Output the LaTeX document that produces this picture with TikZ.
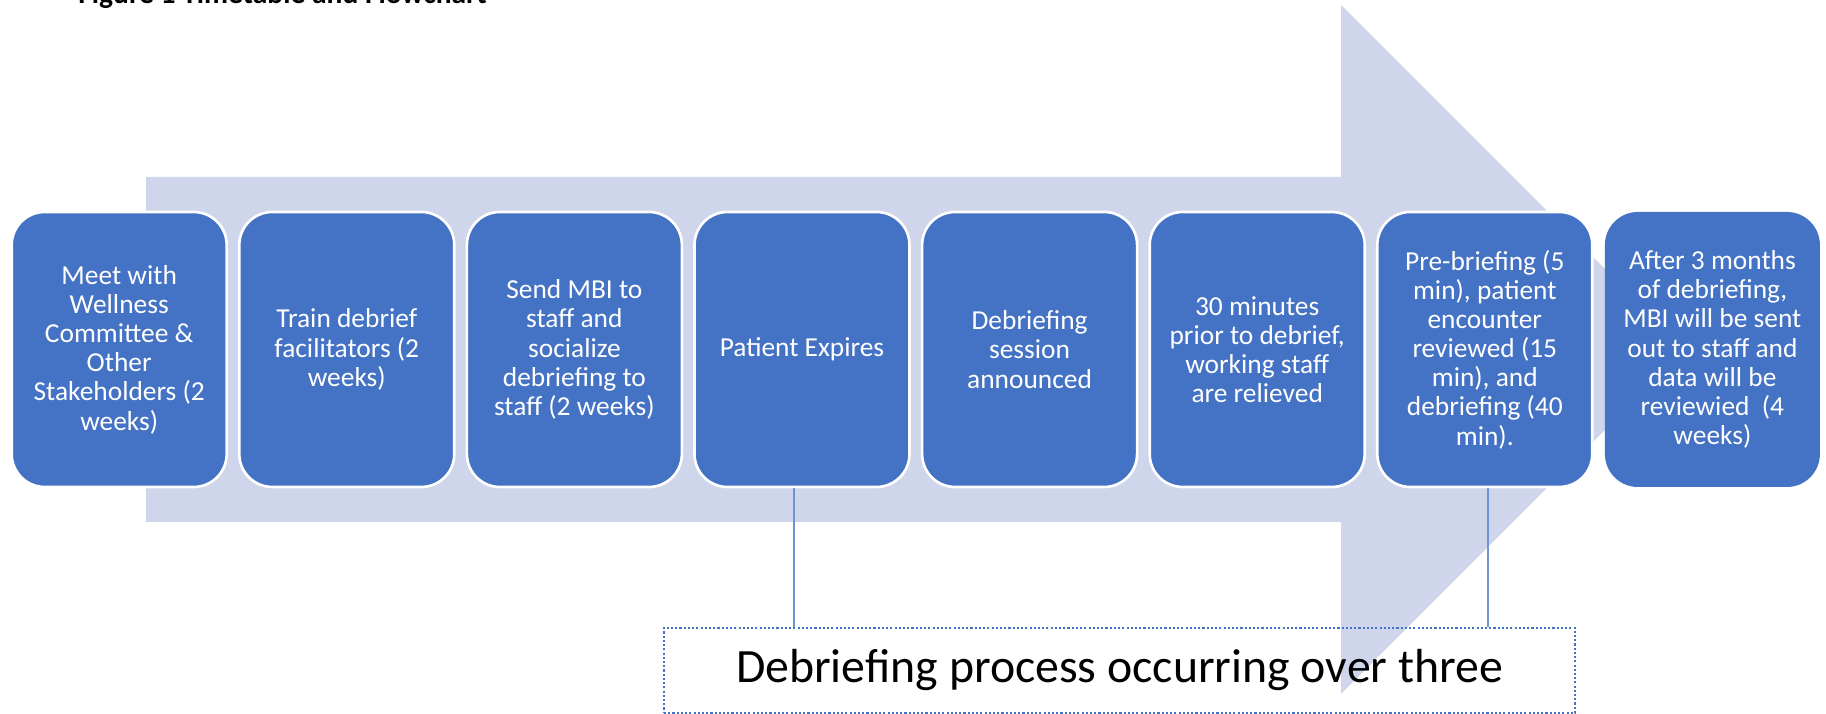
\documentclass[tikz,border=0pt]{standalone}
\usepackage{fontspec}
\setmainfont{Carlito}
\usetikzlibrary{arrows.meta}
\definecolor{bg}{HTML}{FFFFFF}
\definecolor{band}{HTML}{CFD5EA}
\definecolor{stagefill}{HTML}{4472C4}
\definecolor{linkcol}{HTML}{6F93D6}
\definecolor{notedge}{HTML}{4472C4}
\definecolor{ink}{HTML}{000000}

\begin{document}
\begin{tikzpicture}[x=1cm,y=1cm,
  stage/.style={fill=stagefill,draw=white,line width=0.75pt,rounded corners=0.33cm,align=center,inner sep=0pt,
    minimum width=2.15cm,minimum height=2.75cm,text=white,font=\fontsize{7.8}{8.3}\selectfont},
  link/.style={draw=linkcol,line width=0.5pt},
  note/.style={draw=notedge,line width=0.6pt,dash pattern=on 0.6pt off 0.6pt,inner sep=0pt,
    minimum width=9.11cm,minimum height=0.85cm,font=\fontsize{13.6}{15}\selectfont,text=ink}]
  \useasboundingbox (0,0) rectangle (18.26,7.14);
  \fill[bg] (0,0) rectangle (18.26,7.14);
  \node[font=\fontsize{8.4}{9}\selectfont\bfseries,text=ink,anchor=base west] (title) at (0.66,7.10) {Figure 1 Timetable and Flowchart};

  % ===== big background arrow =====
  \fill[band] (1.46,1.92) -- (13.41,1.92) -- (13.41,0.20) -- (16.855,3.645) -- (13.41,7.09) -- (13.41,5.37) -- (1.46,5.37) -- cycle;

  % ===== stages (left to right) =====
  \node[stage] (b1) at (1.192,3.645) {Meet with\\Wellness\\Committee \&\\Other\\Stakeholders (2\\weeks)};
  \node[stage] (b2) at (3.468,3.645) {Train debrief\\facilitators (2\\weeks)};
  \node[stage] (b3) at (5.744,3.645) {Send MBI to\\staff and\\socialize\\debriefing to\\staff (2 weeks)};
  \node[stage] (b4) at (8.020,3.645) {Patient Expires};
  \node[stage] (b5) at (10.296,3.645) {Debriefing\\session\\announced};
  \node[stage] (b6) at (12.572,3.645) {30 minutes\\prior to debrief,\\working staff\\are relieved};
  \node[stage] (b7) at (14.848,3.645) {Pre-briefing (5\\min), patient\\encounter\\reviewed (15\\min), and\\debriefing (40\\min).};
  \node[stage,draw=none] (b8) at (17.124,3.645) {After 3 months\\of debriefing,\\MBI will be sent\\out to staff and\\data will be\\reviewied~ (4\\weeks)};

  % ===== callout box =====
  \node[note] (note) at (11.195,0.435) {Debriefing process occurring over three};
  \draw[link] ([xshift=-0.08cm]b4.south) -- ([xshift=-0.08cm]b4.south |- note.north);
  \draw[link] ([xshift=0.03cm]b7.south) -- ([xshift=0.03cm]b7.south |- note.north);
\end{tikzpicture}
\end{document}
